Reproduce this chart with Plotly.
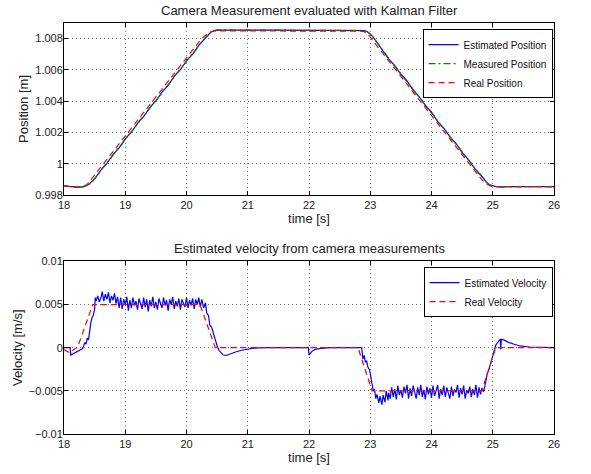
import plotly.graph_objects as go

# ---------------- Position data ----------------
t_pos_est = [18.0, 18.1, 18.2, 18.3, 18.35, 18.4, 18.45, 18.5, 18.6, 18.7, 18.8, 18.9, 19.0, 19.1, 19.2,
             19.3, 19.4, 19.5, 19.6, 19.7, 19.8, 19.9, 20.0, 20.1, 20.2, 20.3, 20.35, 20.4, 20.45, 20.55,
             21.5, 22.5, 22.85, 22.9, 22.95, 23.0, 23.05, 23.1, 23.2, 23.3, 23.4, 23.5, 23.6, 23.7, 23.8,
             23.9, 24.0, 24.1, 24.2, 24.3, 24.4, 24.5, 24.6, 24.7, 24.8, 24.85, 24.9, 24.95, 25.0, 25.05,
             25.15, 25.2, 26.0]
pos_est = [0.99858, 0.99853, 0.99850, 0.99851, 0.99856, 0.99866, 0.99882, 0.99903, 0.99957, 1.00002,
           1.00058, 1.00101, 1.00158, 1.00201, 1.00258, 1.00301, 1.00358, 1.00401, 1.00458, 1.00501,
           1.00558, 1.00601, 1.00658, 1.00701, 1.00757, 1.00801, 1.00825, 1.00842, 1.00851, 1.00855,
           1.00855, 1.00853, 1.00852, 1.00851, 1.00845, 1.00830, 1.00808, 1.00780, 1.00728, 1.00671,
           1.00628, 1.00572, 1.00529, 1.00471, 1.00428, 1.00372, 1.00329, 1.00271, 1.00228, 1.00172,
           1.00129, 1.00071, 1.00028, 0.99972, 0.99929, 0.99903, 0.99880, 0.99864, 0.99856, 0.99853,
           0.99849, 0.99853, 0.99853]

t_pos_meas = [18.0, 18.15, 18.3, 18.4, 18.45, 18.55, 18.65, 18.75, 18.85, 18.95, 19.05, 19.15, 19.25,
              19.35, 19.45, 19.55, 19.65, 19.75, 19.85, 19.95, 20.05, 20.15, 20.25, 20.35, 20.42, 20.5,
              21.3, 22.2, 22.87, 22.95, 23.02, 23.08, 23.15, 23.25, 23.35, 23.45, 23.55, 23.65, 23.75,
              23.85, 23.95, 24.05, 24.15, 24.25, 24.35, 24.45, 24.55, 24.65, 24.75, 24.85, 24.92, 24.98,
              25.05, 25.15, 25.5, 26.0]
pos_meas = [0.99857, 0.99851, 0.99850, 0.99864, 0.99880, 0.99926, 0.99983, 1.00027, 1.00083, 1.00127,
            1.00183, 1.00227, 1.00283, 1.00327, 1.00383, 1.00427, 1.00483, 1.00527, 1.00583, 1.00627,
            1.00683, 1.00727, 1.00782, 1.00826, 1.00848, 1.00856, 1.00854, 1.00856, 1.00853, 1.00844,
            1.00822, 1.00792, 1.00752, 1.00703, 1.00647, 1.00603, 1.00547, 1.00503, 1.00447, 1.00403,
            1.00347, 1.00303, 1.00247, 1.00203, 1.00147, 1.00103, 1.00047, 1.00003, 0.99948, 0.99903,
            0.99872, 0.99857, 0.99853, 0.99851, 0.99853, 0.99852]

t_pos_real = [18.0, 18.1, 18.22, 18.3, 18.38, 18.47, 20.22, 20.3, 20.38, 20.47, 22.80, 22.88, 22.95,
              23.03, 24.82, 24.90, 24.97, 25.05, 26.0]
pos_real = [0.99859, 0.99853, 0.99851, 0.99853, 0.99867, 0.99912, 1.00787, 1.00819, 1.00842, 1.00850,
            1.00850, 1.00847, 1.00834, 1.00793, 0.99898, 0.99870, 0.99856, 0.99853, 0.99853]

# ---------------- Velocity data ----------------
t_vel_est = [18.00, 18.10, 18.11, 18.20, 18.30, 18.32, 18.34, 18.36, 18.38, 18.40, 18.42, 18.44, 18.46,
             18.48, 18.50, 18.51,
             18.525, 18.55, 18.575, 18.60, 18.625, 18.65, 18.675, 18.70, 18.725, 18.75, 18.775, 18.80,
             18.825, 18.85, 18.875, 18.90, 18.925, 18.95, 18.975, 19.00, 19.025, 19.05, 19.075, 19.10,
             19.125, 19.15, 19.175, 19.20, 19.225, 19.25, 19.275, 19.30, 19.325, 19.35, 19.375, 19.40,
             19.425, 19.45, 19.475, 19.50, 19.525, 19.55, 19.575, 19.60, 19.625, 19.65, 19.675, 19.70,
             19.725, 19.75, 19.775, 19.80, 19.825, 19.85, 19.875, 19.90, 19.925, 19.95, 19.975, 20.00,
             20.025, 20.05, 20.075, 20.10, 20.125, 20.15, 20.175, 20.20, 20.225, 20.25,
             20.28, 20.31, 20.33, 20.36, 20.38, 20.41, 20.44, 20.47, 20.50, 20.53, 20.56, 20.60, 20.65,
             20.72, 20.80, 20.90, 21.0, 21.1, 21.25, 21.99,
             22.00, 22.05, 22.10, 22.20, 22.35, 22.86,
             22.88, 22.90, 22.92, 22.94, 22.96, 22.99, 23.01, 23.03, 23.05, 23.07, 23.09, 23.11, 23.14,
             23.16, 23.19, 23.21, 23.24, 23.26, 23.29,
             23.300, 23.325, 23.35, 23.375, 23.40, 23.425, 23.45, 23.475, 23.50, 23.525, 23.55, 23.575,
             23.60, 23.625, 23.65, 23.675, 23.70, 23.725, 23.75, 23.775, 23.80, 23.825, 23.85, 23.875,
             23.90, 23.925, 23.95, 23.975, 24.00, 24.025, 24.05, 24.075, 24.10, 24.125, 24.15, 24.175,
             24.20, 24.225, 24.25, 24.275, 24.30, 24.325, 24.35, 24.375, 24.40, 24.425, 24.45, 24.475,
             24.50, 24.525, 24.55, 24.575, 24.60, 24.625, 24.65, 24.675, 24.70, 24.725, 24.75, 24.775,
             24.80, 24.825, 24.85,
             24.87, 24.89, 24.91, 24.93, 24.96, 24.99, 25.02, 25.05, 25.08, 25.11, 25.125, 25.13, 25.14,
             25.18, 25.25, 25.35, 25.45, 25.6, 25.8, 26.0]
v_est_milli = [0.0, 0.0, -0.85, -0.5, -0.12, 0.2, 0.6, 0.4, 1.1, 0.9, 2.1, 3.0, 3.5,
               3.8, 4.5, 5.8,
               5.4, 6.0, 5.3, 5.7, 6.5, 5.4, 6.2, 5.6, 6.4, 5.2, 6.0, 5.5,
               6.3, 5.1, 5.9, 4.6, 5.8, 4.5, 5.6, 5.0, 5.9, 4.3, 5.5, 4.6,
               5.8, 4.9, 5.4, 4.4, 5.7, 5.0, 4.5, 5.8, 4.7, 5.6, 4.2, 5.5,
               4.8, 5.9, 4.6, 5.3, 4.4, 5.7, 5.1, 4.6, 5.8, 4.9, 5.5, 4.3,
               5.6, 5.0, 5.9, 4.5, 5.4, 4.8, 5.7, 4.4, 5.6, 5.1, 4.7, 5.8,
               4.6, 5.5, 4.9, 5.7, 4.5, 5.6, 5.0, 5.8, 4.7, 5.6,
               4.6, 5.2, 4.0, 3.7, 2.6, 2.4, 1.6, 1.0, 0.2, -0.3, -0.6, -0.85, -0.9,
               -0.7, -0.5, -0.3, -0.15, -0.05, 0.0, 0.0,
               -0.85, -0.4, -0.2, -0.08, 0.0, 0.0,
               -1.3, -0.9, -1.7, -1.5, -2.2, -2.6, -3.4, -4.5, -5.0, -4.8, -5.9, -5.4, -6.4,
               -5.6, -6.6, -5.5, -6.3, -5.0, -6.1,
               -5.2, -5.9, -4.6, -5.7, -4.8, -6.0, -4.4, -5.5, -4.9, -5.8, -4.5, -5.3,
               -4.3, -5.9, -4.7, -5.6, -4.4, -5.2, -5.9, -4.6, -5.5, -4.3, -5.7, -4.9,
               -6.0, -4.5, -5.4, -4.7, -5.8, -4.4, -5.6, -5.0, -4.3, -5.9, -4.8, -5.5,
               -4.4, -5.7, -4.6, -5.3, -5.9, -4.5, -5.6, -4.8, -5.2, -4.3, -5.8, -4.7,
               -5.4, -4.4, -5.9, -4.9, -5.3, -4.5, -5.7, -4.8, -5.5, -4.3, -5.8, -4.6,
               -5.4, -4.7, -5.1,
               -4.5, -3.6, -3.0, -2.7, -1.9, -1.2, -0.4, 0.3, 0.6, 0.9, 1.0, -0.2, 0.95,
               0.9, 0.65, 0.4, 0.2, 0.08, 0.0, 0.0]
v_est = [v / 1000.0 for v in v_est_milli]

t_vel_real = [18.0, 18.09, 18.18, 18.22, 18.47, 20.22, 20.47, 22.80, 23.03, 24.82, 25.05, 26.0]
v_real = [-0.0002, -0.0006, -0.0001, 0.0, 0.005, 0.005, 0.0, 0.0, -0.005, -0.005, 0.0, 0.0]

# ---------------- Ticks ----------------
x_ticks = [18, 19, 20, 21, 22, 23, 24, 25, 26]
pos_ticks = [0.998, 1.0, 1.002, 1.004, 1.006, 1.008]
pos_tick_text = ["0.998", "1", "1.002", "1.004", "1.006", "1.008"]
vel_ticks = [-0.01, -0.005, 0.0, 0.005, 0.01]
vel_tick_text = ["\u22120.01", "\u22120.005", "0", "0.005", "0.01"]

BLUE = "rgb(0,0,255)"
GREEN = "rgb(0,128,0)"
RED = "rgb(255,0,0)"
FONT = "Liberation Sans, Arial, Helvetica, sans-serif"
DASH = "6px,4px"
DASHDOT = "7px,3px,2px,3px"

fig = go.Figure()
fig.add_trace(go.Scatter(x=t_pos_est, y=pos_est, mode="lines", name="Estimated Position",
                         line=dict(color=BLUE, width=1.2), xaxis="x", yaxis="y", legend="legend"))
fig.add_trace(go.Scatter(x=t_pos_meas, y=pos_meas, mode="lines", name="Measured Position",
                         line=dict(color=GREEN, width=1.2, dash=DASHDOT), xaxis="x", yaxis="y",
                         legend="legend"))
fig.add_trace(go.Scatter(x=t_pos_real, y=pos_real, mode="lines", name="Real Position",
                         line=dict(color=RED, width=1.2, dash=DASH), xaxis="x", yaxis="y",
                         legend="legend"))
fig.add_trace(go.Scatter(x=t_vel_est, y=v_est, mode="lines", name="Estimated Velocity",
                         line=dict(color=BLUE, width=1.2), xaxis="x2", yaxis="y2", legend="legend2"))
fig.add_trace(go.Scatter(x=t_vel_real, y=v_real, mode="lines", name="Real Velocity",
                         line=dict(color=RED, width=1.2, dash=DASH), xaxis="x2", yaxis="y2",
                         legend="legend2"))

axis_common = dict(showline=True, linecolor="black", linewidth=1, mirror="ticks", ticks="inside",
                   ticklen=4, tickcolor="black", showgrid=True, gridcolor="rgba(0,0,0,0.55)",
                   griddash="1px,3px", gridwidth=1, zeroline=False,
                   tickfont=dict(family=FONT, size=11, color="#222"))

fig.update_layout(
    width=591, height=474,
    margin=dict(l=64, r=37, t=23, b=35),
    paper_bgcolor="white", plot_bgcolor="white",
    font=dict(family=FONT, size=11, color="#222"),
    xaxis=dict(domain=[0, 1], anchor="y", range=[18, 26], tickvals=x_ticks,
               title=dict(text="time [s]", font=dict(size=13), standoff=1), **axis_common),
    yaxis=dict(domain=[0.5817, 1], anchor="x", range=[0.998, 1.009], tickvals=pos_ticks,
               ticktext=pos_tick_text, ticklabelstandoff=-2,
               title=dict(text="Position [m]", font=dict(size=13), standoff=3),
               **axis_common),
    xaxis2=dict(domain=[0, 1], anchor="y2", range=[18, 26], tickvals=x_ticks,
                title=dict(text="time [s]", font=dict(size=13), standoff=3), **axis_common),
    yaxis2=dict(domain=[0, 0.42], anchor="x2", range=[-0.01, 0.01], tickvals=vel_ticks,
                ticktext=vel_tick_text, ticklabelstandoff=-2,
                title=dict(text="Velocity [m/s]", font=dict(size=13), standoff=3),
                **axis_common),
    legend=dict(x=0.997, y=0.985, xanchor="right", yanchor="top", bgcolor="white",
                bordercolor="black", borderwidth=1, font=dict(family=FONT, size=10, color="#111"),
                tracegroupgap=0, itemwidth=30),
    legend2=dict(x=0.997, y=0.406, xanchor="right", yanchor="top", bgcolor="white",
                 bordercolor="black", borderwidth=1, font=dict(family=FONT, size=10, color="#111"),
                 tracegroupgap=0, itemwidth=30),
    showlegend=True,
    annotations=[
        dict(text="Camera Measurement evaluated with Kalman Filter", x=0.5, y=1.031, xref="paper",
             yref="paper", xanchor="center", yanchor="middle", showarrow=False,
             font=dict(family=FONT, size=13, color="#222")),
        dict(text="Estimated velocity from camera measurements", x=0.5, y=0.452, xref="paper",
             yref="paper", xanchor="center", yanchor="middle", showarrow=False,
             font=dict(family=FONT, size=13, color="#222")),
    ],
)

fig.write_html("out.html", config={"displayModeBar": False},
               post_script="document.body.style.margin='0px';")
